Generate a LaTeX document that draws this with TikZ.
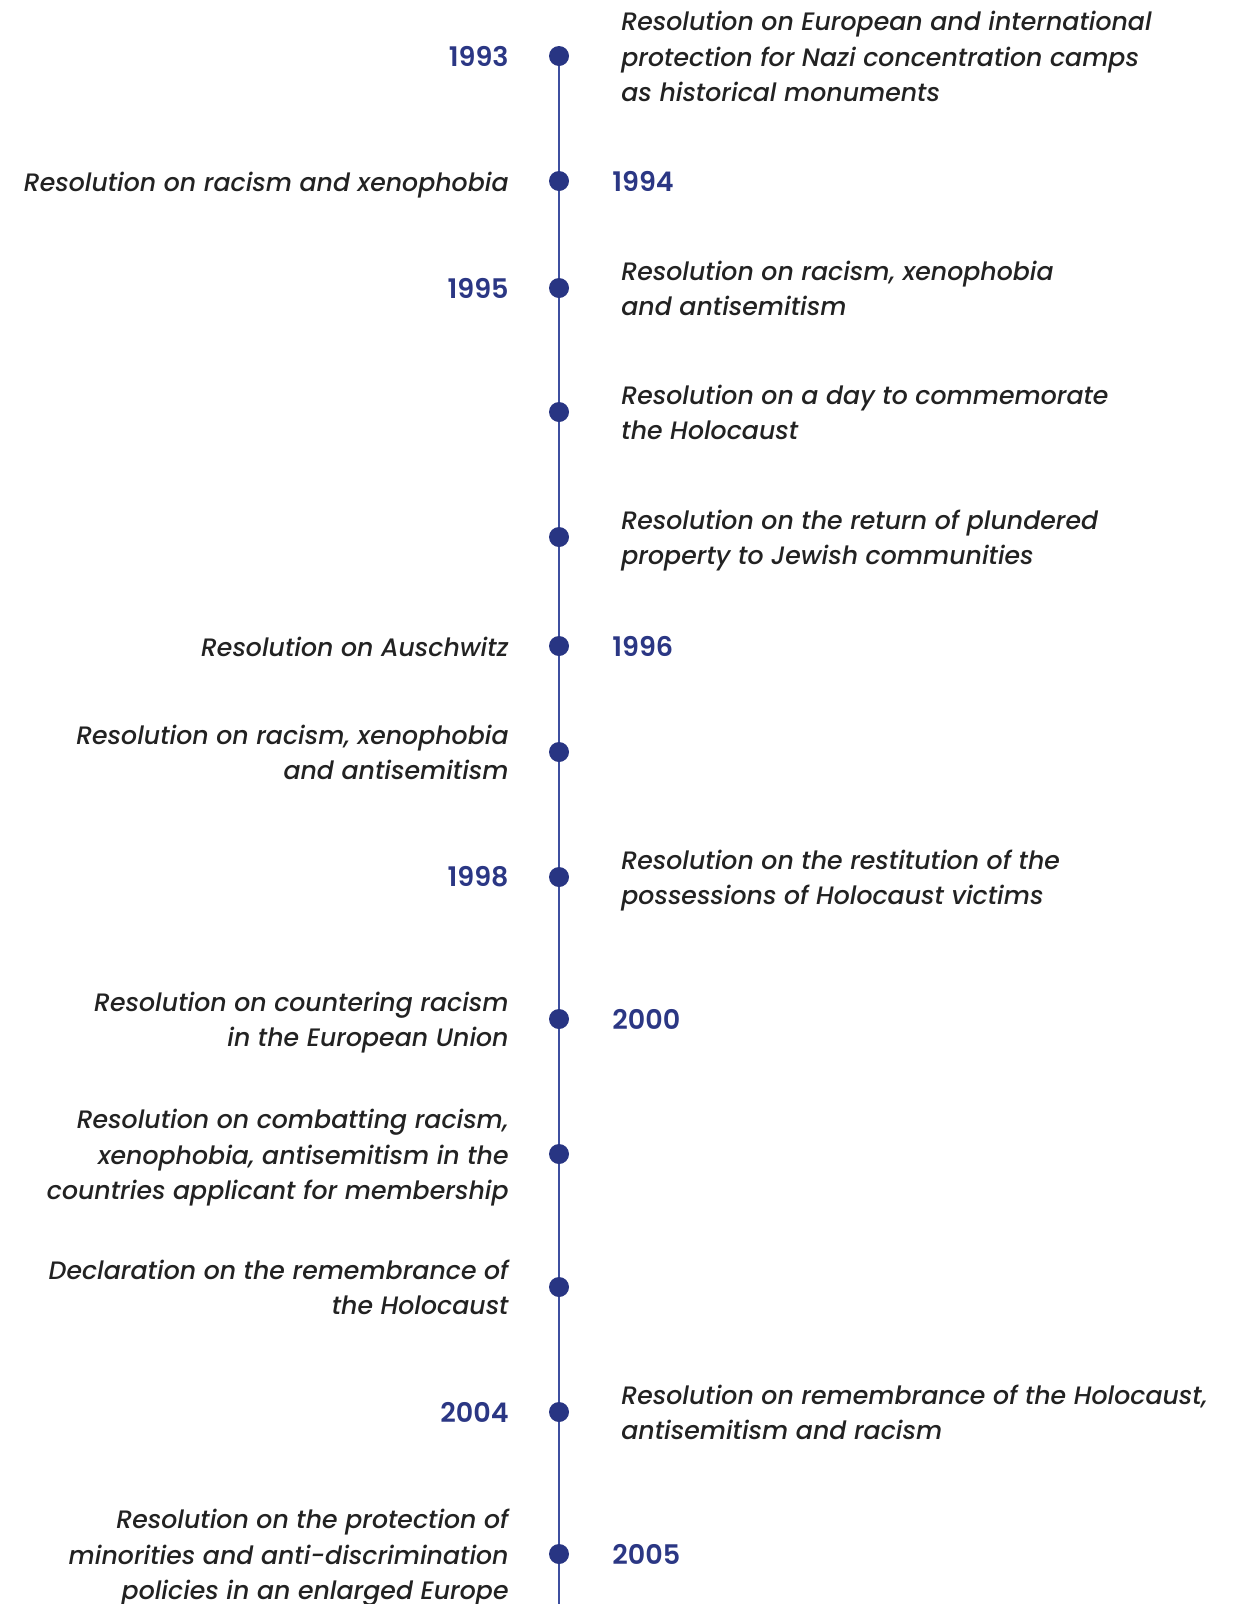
\documentclass[tikz,border=0pt]{standalone}
\usepackage{fontspec}
\setmainfont{Poppins}[ItalicFont={Poppins Medium Italic}]
\newfontfamily\yearFont{Poppins SemiBold}
\usetikzlibrary{positioning,backgrounds}
\definecolor{lineColor}{RGB}{61,79,160}
\definecolor{dotColor}{RGB}{40,53,131}
\definecolor{yearColor}{RGB}{43,55,132}
\definecolor{entryColor}{RGB}{34,34,34}
\tikzstyle{timeline} = [x = 1pt, y = -1pt]
\tikzstyle{dotStyle} = [circle, fill=dotColor, inner sep=0pt, minimum size=20pt]
\tikzstyle{lineStyle} = [color=lineColor, line width=2pt]
\tikzstyle{yearStyle} = [font=\fontsize{27}{35.3}\selectfont\yearFont, text=yearColor, inner sep=0pt]
\tikzstyle{entryStyle} = [font=\fontsize{25.2}{35.3}\selectfont\itshape, text=entryColor, inner sep=0pt, yshift=-3pt]
\newcommand{\eventDot}[2]{\node [dotStyle] (dot#1) at (559, #2) {};}
\newcommand{\yearLeft}[2]{\node [yearStyle, left=40pt of dot#1] (year#1) {#2};}
\newcommand{\yearRight}[2]{\node [yearStyle, right=43pt of dot#1] (year#1) {#2};}
\newcommand{\entryLeft}[2]{\node [entryStyle, align=right, left=40pt of dot#1] (entry#1) {\strut#2\strut};}
\newcommand{\entryRight}[2]{\node [entryStyle, align=left, right=52pt of dot#1] (entry#1) {\strut#2\strut};}

\begin{document}
\begin{tikzpicture}[timeline]
\useasboundingbox (0,0) rectangle (1239,1604);
% dots on the time line
\eventDot{1}{56}\eventDot{2}{181}\eventDot{3}{288}\eventDot{4}{412}\eventDot{5}{537}\eventDot{6}{646}\eventDot{7}{752}
\eventDot{8}{877}\eventDot{9}{1019}\eventDot{10}{1154}\eventDot{11}{1287}\eventDot{12}{1412}\eventDot{13}{1554}
\coordinate (lineEnd) at (559, 1610);
\begin{pgfonlayer}{background}
  \draw [lineStyle] (dot1.center) -- (lineEnd);
\end{pgfonlayer}
% years
\yearLeft{1}{1993}\yearRight{2}{1994}\yearLeft{3}{1995}\yearRight{6}{1996}\yearLeft{8}{1998}\yearRight{9}{2000}\yearLeft{12}{2004}\yearRight{13}{2005}
% entries
\entryRight{1}{Resolution on European and international\\protection for Nazi concentration camps\\as historical monuments}
\entryLeft{2}{Resolution on racism and xenophobia}
\entryRight{3}{Resolution on racism, xenophobia\\and antisemitism}
\entryRight{4}{Resolution on a day to commemorate\\the Holocaust}
\entryRight{5}{Resolution on the return of plundered\\property to Jewish communities}
\entryLeft{6}{Resolution on Auschwitz}
\entryLeft{7}{Resolution on racism, xenophobia\\and antisemitism}
\entryRight{8}{Resolution on the restitution of the\\possessions of Holocaust victims}
\entryLeft{9}{Resolution on countering racism\\in the European Union}
\entryLeft{10}{Resolution on combatting racism,\\xenophobia, antisemitism in the\\countries applicant for membership}
\entryLeft{11}{Declaration on the remembrance of\\the Holocaust}
\entryRight{12}{Resolution on remembrance of the Holocaust,\\antisemitism and racism}
\entryLeft{13}{Resolution on the protection of\\minorities and anti-discrimination\\policies in an enlarged Europe}
\end{tikzpicture}
\end{document}
